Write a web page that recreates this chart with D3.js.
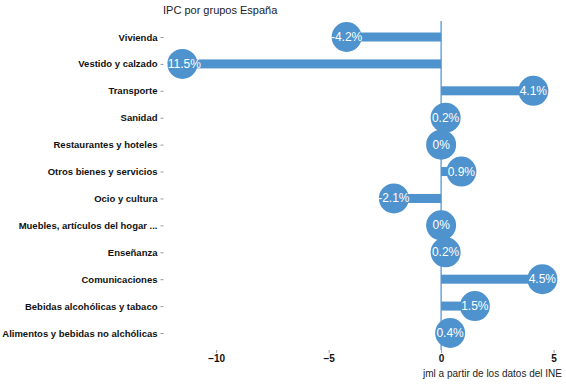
<!DOCTYPE html>
<html>
<head>
<meta charset="utf-8">
<script src="https://cdn.jsdelivr.net/npm/d3@7"></script>
<style>
  body { margin: 0; background: #fff; }
  text { font-family: "Liberation Sans", Arial, sans-serif; }
</style>
</head>
<body>
<script>
// Categorias y variacion del IPC (%)
var groups = [
  'Vivienda', 'Vestido y calzado', 'Transporte', 'Sanidad',
  'Restaurantes y hoteles', 'Otros bienes y servicios', 'Ocio y cultura',
  'Muebles, artículos del hogar ...', 'Enseñanza', 'Comunicaciones',
  'Bebidas alcohólicas y tabaco', 'Alimentos y bebidas no alchólicas'
];
var values = [-4.2, -11.5, 4.1, 0.2, 0, 0.9, -2.1, 0, 0.2, 4.5, 1.5, 0.4];
var xTicks = [-10, -5, 0, 5];

var W = 566, H = 384;
var margin = {top: 23.5, right: 7, bottom: 37.5, left: 165.5};
var color = '#4e93cd';

var svg = d3.select('body').append('svg')
  .attr('width', W)
  .attr('height', H);

var x = d3.scaleLinear()
  .domain([-12.25, 5.25])
  .range([margin.left, margin.left + 17.5 * 22.5]);

var y = d3.scalePoint()
  .domain(groups)
  .range([margin.top + 13.5, H - margin.bottom - 13.5]);

// titulo
svg.append('text')
  .attr('x', 163)
  .attr('y', 14)
  .attr('font-size', 11)
  .attr('fill', '#222')
  .text('IPC por grupos España');

// eje y
var yAxis = svg.append('g')
  .attr('transform', 'translate(' + (margin.left - 2) + ',0)')
  .call(d3.axisLeft(y).tickSize(3).tickPadding(3));
yAxis.select('.domain').remove();
yAxis.selectAll('line').attr('stroke', '#999');
yAxis.selectAll('text')
  .attr('font-size', 9.5)
  .attr('font-weight', 'bold')
  .attr('font-family', '"Liberation Sans", Arial, sans-serif')
  .attr('fill', '#111');

// eje x
var xAxis = svg.append('g')
  .attr('transform', 'translate(0,' + 350 + ')')
  .call(d3.axisBottom(x).tickValues(xTicks).tickSize(3).tickPadding(2).tickFormat(d3.format('d')));
xAxis.select('.domain').remove();
xAxis.selectAll('line').attr('stroke', '#999');
xAxis.selectAll('text')
  .attr('font-size', 10)
  .attr('font-weight', 'bold')
  .attr('font-family', '"Liberation Sans", Arial, sans-serif')
  .attr('fill', '#111');

// linea del cero
svg.append('line')
  .attr('x1', x(0)).attr('x2', x(0))
  .attr('y1', 21).attr('y2', 350)
  .attr('stroke', '#6fa5d6')
  .attr('stroke-width', 1.5);

var rows = svg.selectAll('.row')
  .data(groups)
  .enter()
  .append('g')
  .attr('class', 'row');

rows.append('rect')
  .attr('x', function(d, i) { return Math.min(x(0), x(values[i])); })
  .attr('y', function(d) { return y(d) - 4.5; })
  .attr('width', function(d, i) { return Math.abs(x(values[i]) - x(0)); })
  .attr('height', 9)
  .attr('fill', color);

rows.append('circle')
  .attr('cx', function(d, i) { return x(values[i]); })
  .attr('cy', function(d) { return y(d); })
  .attr('r', 15)
  .attr('fill', color);

rows.append('text')
  .attr('x', function(d, i) { return x(values[i]); })
  .attr('y', function(d) { return y(d) + 4; })
  .attr('text-anchor', 'middle')
  .attr('font-size', 12)
  .attr('fill', '#fff')
  .text(function(d, i) { return values[i] + '%'; });

// fuente
svg.append('text')
  .attr('x', 562)
  .attr('y', 377)
  .attr('text-anchor', 'end')
  .attr('font-size', 10)
  .attr('fill', '#222')
  .text('jml a partir de los datos del INE');
</script>
</body>
</html>
